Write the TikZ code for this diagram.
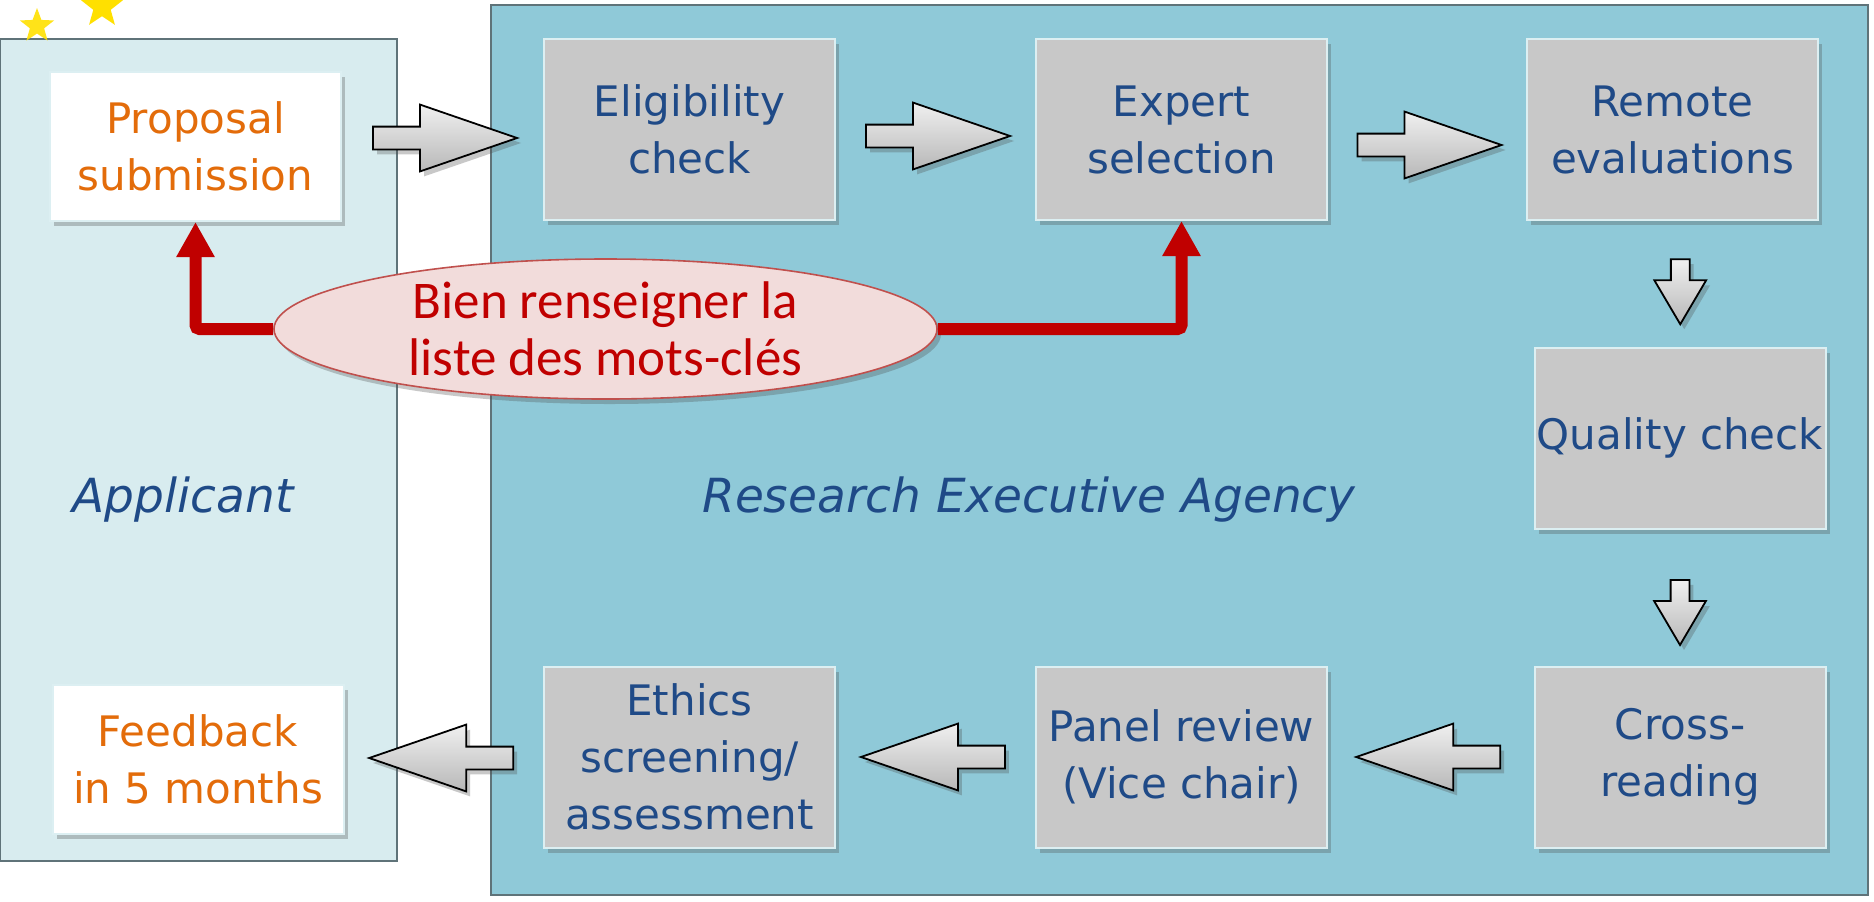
\documentclass[tikz,border=0pt]{standalone}
\usepackage{fontspec}
\setmainfont{DejaVu Sans}
\newfontfamily\notefont{Carlito}
\usetikzlibrary{shapes.geometric,shapes.arrows,shadows,arrows.meta,calc}
\definecolor{applfill}{HTML}{D8ECEF}
\definecolor{reafill}{HTML}{8FC9D8}
\definecolor{laneedge}{HTML}{5F7379}
\definecolor{boxgray}{HTML}{C8C8C8}
\definecolor{boxedge}{HTML}{DCEFF2}
\definecolor{txtblue}{HTML}{1F4A87}
\definecolor{txtorange}{HTML}{E36C0A}
\definecolor{keyred}{HTML}{C00000}
\definecolor{notefill}{HTML}{F2DCDB}
\definecolor{noteedge}{HTML}{C0504D}
\definecolor{staryellow}{HTML}{FFE000}

\begin{document}
\begin{tikzpicture}[x=0.5pt, y=-0.5pt,
    softshadow/.style={drop shadow={shadow xshift=2pt, shadow yshift=-2.5pt, opacity=0.3, fill=black!70}},
    stepbox/.style={draw=boxedge, line width=1pt, fill=boxgray, minimum width=145.5pt, minimum height=90.5pt,
      inner sep=0pt, align=center, text=txtblue, font=\fontsize{21}{28.5}\selectfont, softshadow},
    userbox/.style={stepbox, fill=white, text=txtorange, minimum height=74.5pt},
    arrowbase/.style={single arrow, draw=black, line width=0.9pt, top color=white!94!black, bottom color=black!28,
      minimum height=72pt, single arrow head extend=11pt, single arrow tip angle=38,
      inner sep=5.25pt, softshadow},
    flow/.style={arrowbase, xshift=-7pt},
    flowback/.style={arrowbase, shape border rotate=180, xshift=7pt},
    flowdown/.style={arrowbase, shape border rotate=270, minimum height=32.5pt, inner sep=4.25pt,
      single arrow head extend=8.25pt, single arrow tip angle=61, yshift=3.5pt},
    keyline/.style={draw=keyred, line width=6pt, rounded corners=2pt, -{Triangle[width=18pt,length=17.5pt]}},
    lanetext/.style={text=txtblue, font=\fontsize{23.5}{28}\selectfont\itshape}]
  \useasboundingbox (0,0) rectangle (1874,901);
  \fill[white] (0,0) rectangle (1874,901);

  \draw[laneedge, fill=applfill, line width=1pt] (0,39) rectangle (397,861);
  \draw[laneedge, fill=reafill, line width=1pt] (491,5) rectangle (1868,895);
  \node[star, star points=5, star point ratio=2.4, fill=staryellow, opacity=0.9, inner sep=0pt, minimum size=18pt] (star1) at (37,26) {};
  \node[star, star points=5, star point ratio=2.4, fill=staryellow, inner sep=0pt, minimum size=22pt] (star2) at (102,7) {};

  \node[lanetext] (applicant) at (183,500) {Applicant};
  \node[lanetext] (agency) at (1029,500) {Research Executive Agency};

  \node[userbox] (prop) at (195.5,146.5) {Proposal\\submission};
  \node[userbox] (feedback) at (198,759) {Feedback\\in 5 months};
  \node[stepbox] (elig) at (689.5,129.5) {Eligibility\\check};
  \node[stepbox] (expert) at (1181.5,129.5) {Expert\\selection};
  \node[stepbox] (remote) at (1672.5,129.5) {Remote\\evaluations};
  \node[stepbox] (quality) at (1680,438) {Quality check};
  \node[stepbox] (cross) at (1680,757) {Cross-\\reading};
  \node[stepbox] (panel) at (1181.5,757) {Panel review\\(Vice chair)};
  \node[stepbox] (ethics) at (689.5,757) {Ethics\\screening/\\assessment};

  \node[flow] (f1) at ($(prop.east)!0.5!(elig.west)$) {};
  \node[flow, yshift=-3.25pt] (f2) at ($(elig.east)!0.5!(expert.west)$) {};
  \node[flow, yshift=-7.75pt] (f3) at ($(expert.east)!0.5!(remote.west)$) {};
  \node[flowdown, xshift=2pt, yshift=-3.5pt] (f4) at ($(remote.south)!0.5!(quality.north)$) {};
  \node[flowdown, yshift=-7pt] (f5) at ($(quality.south)!0.5!(cross.north)$) {};
  \node[flowback] (f6) at ($(cross.west)!0.5!(panel.east)$) {};
  \node[flowback] (f7) at ($(panel.west)!0.5!(ethics.east)$) {};
  \node[flowback] (f8) at ($(ethics.west)!0.5!(feedback.east)$) {};

  \node[ellipse, draw=noteedge, line width=0.8pt, fill=notefill, minimum width=331.5pt, minimum height=70pt,
    inner sep=0pt, align=center, text=keyred, font=\notefont\fontsize{26.5}{28.5}\selectfont, softshadow]
    (kw) at (605.5,329) {Bien renseigner la\\liste des mots-clés};
  \draw[keyline] (kw.west) -| (prop.south);
  \draw[keyline] (kw.east) -| (expert.south);
\end{tikzpicture}
\end{document}
